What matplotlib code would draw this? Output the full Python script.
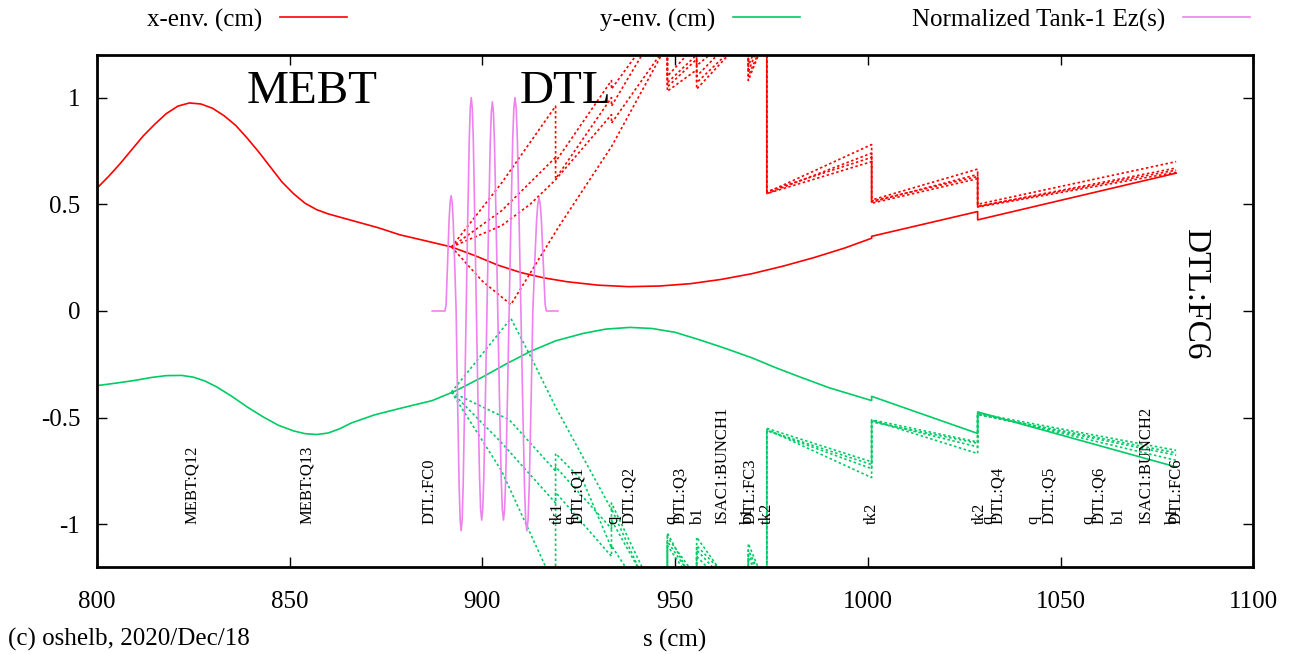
import numpy as np
import matplotlib
matplotlib.use("Agg")
import matplotlib.pyplot as plt

plt.rcParams['font.family'] = ['Liberation Serif', 'DejaVu Serif']

RED = '#ff0000'
GREEN = '#00cc66'
VIOLET = '#ee82ee'

# --- main envelopes (design) ---
x_s = [800, 803, 806, 809, 812, 815, 818, 821, 824, 827, 830, 833, 836, 839, 842, 845, 848,
       851, 854, 857, 860, 864, 868, 873, 878.6, 885, 892, 898, 904, 910, 916, 922, 930,
       938, 946, 954, 962, 970, 978, 986, 994, 1001,
       1001, 1028.5, 1028.5, 1080]
x_env = [0.575, 0.63, 0.69, 0.755, 0.82, 0.875, 0.925, 0.96, 0.975, 0.97, 0.95, 0.915, 0.87,
         0.81, 0.745, 0.675, 0.605, 0.55, 0.505, 0.475, 0.455, 0.435, 0.415, 0.39, 0.357, 0.33,
         0.30, 0.26, 0.215, 0.18, 0.155, 0.137, 0.121, 0.114, 0.117, 0.128, 0.148, 0.175,
         0.21, 0.25, 0.295, 0.341,
         0.35, 0.466, 0.427, 0.646]

y_s = [800, 805, 810, 814, 818, 822, 825, 828, 831, 835, 839, 843, 847, 851, 854, 857, 860,
       863, 866, 872, 879, 887, 893, 900, 906, 912.4, 919, 926.2, 932, 938.3, 944, 950,
       956.5, 963, 970, 976, 982.5, 990, 1001,
       1001, 1028.5, 1028.5, 1080]
y_env = [-0.35, -0.338, -0.325, -0.312, -0.303, -0.302, -0.31, -0.328, -0.355, -0.40, -0.45,
         -0.495, -0.535, -0.562, -0.575, -0.579, -0.572, -0.552, -0.525, -0.487, -0.455,
         -0.42, -0.375, -0.31, -0.25, -0.19, -0.14, -0.105, -0.085, -0.077, -0.082, -0.10,
         -0.136, -0.175, -0.22, -0.265, -0.31, -0.36, -0.42,
         -0.40, -0.574, -0.473, -0.731]

# --- envelopes with errors (dotted) ---
xerr_runs = [
    ([892, 900, 907.4, 920, 933.5, 948, 948, 955.6, 955.6, 969, 969, 973.8, 973.8, 1001, 1001, 1028.5, 1028.5, 1080],
     [0.30, 0.14, 0.03, 0.40, 0.77, 1.25, 1.03, 1.13, 1.04, 1.30, 1.08, 1.30, 0.55, 0.70, 0.505, 0.62, 0.487, 0.65]),
    ([892, 905, 919, 919, 933.5, 933.5, 948, 948, 955.6, 955.6, 969, 969, 973.8, 973.8, 1001, 1001, 1028.5, 1028.5, 1080],
     [0.30, 0.60, 0.96, 0.62, 1.0, 0.96, 1.40, 1.07, 1.20, 1.10, 1.35, 1.12, 1.35, 0.555, 0.78, 0.52, 0.665, 0.50, 0.70]),
    ([892, 905, 919, 919, 933.5, 933.5, 948, 948, 955.6, 955.6, 969, 969, 973.8, 973.8, 1001, 1001, 1028.5, 1028.5, 1080],
     [0.30, 0.47, 0.72, 0.70, 1.08, 1.04, 1.40, 1.10, 1.25, 1.15, 1.35, 1.15, 1.35, 0.55, 0.74, 0.51, 0.64, 0.49, 0.67]),
    ([892, 905, 912.4, 919, 933.5, 933.5, 948, 948, 955.6, 955.6, 969, 969, 973.8, 973.8, 1001, 1001, 1028.5, 1028.5, 1080],
     [0.30, 0.40, 0.50, 0.615, 0.92, 0.88, 1.25, 1.05, 1.18, 1.07, 1.30, 1.10, 1.30, 0.56, 0.72, 0.515, 0.63, 0.49, 0.66]),
]
yerr_runs = [
    ([892, 907.4, 913, 919, 933.5, 933.5, 948, 948, 955.6, 955.6, 969, 969, 973.8, 973.8, 1001, 1001, 1028.5, 1028.5, 1080],
     [-0.38, -0.035, -0.23, -0.45, -0.93, -0.90, -1.45, -1.04, -1.30, -1.06, -1.40, -1.09, -1.30, -0.555, -0.781, -0.512, -0.668, -0.48, -0.653]),
    ([892, 905, 919, 919, 926.2, 933.5, 933.5, 948, 948, 955.6, 955.6, 969, 969, 973.8, 973.8, 1001, 1001, 1028.5, 1028.5, 1080],
     [-0.38, -0.75, -1.30, -0.668, -0.80, -1.11, -0.926, -1.50, -1.06, -1.25, -1.10, -1.35, -1.12, -1.30, -0.56, -0.739, -0.515, -0.637, -0.485, -0.676]),
    ([892, 907, 919, 919, 933.5, 933.5, 948, 948, 955.6, 955.6, 969, 969, 973.8, 973.8, 1001, 1001, 1028.5, 1028.5, 1080],
     [-0.38, -0.51, -0.75, -0.73, -1.02, -0.98, -1.45, -1.08, -1.28, -1.12, -1.38, -1.14, -1.30, -0.55, -0.707, -0.51, -0.614, -0.48, -0.70]),
    ([892, 904.6, 919, 919, 933.5, 933.5, 948, 948, 955.6, 955.6, 969, 969, 973.8, 973.8, 1001, 1001, 1028.5, 1028.5, 1080],
     [-0.38, -0.61, -0.90, -0.85, -1.15, -1.10, -1.50, -1.10, -1.30, -1.15, -1.40, -1.16, -1.30, -0.56, -0.72, -0.52, -0.62, -0.485, -0.665]),
]

# --- normalized Tank-1 Ez(s) ---
ez_s = [887.0, 890.3,
        890.6, 890.99, 891.38, 891.64, 891.9, 892.16, 892.42, 892.81,
        893.2, 893.59, 893.98, 894.24, 894.5, 894.76, 895.02, 895.41,
        895.8, 896.2, 896.6, 896.86, 897.13, 897.39, 897.66, 898.05,
        898.45, 898.86, 899.28, 899.55, 899.83, 900.1, 900.38, 900.79,
        901.2, 901.62, 902.04, 902.32, 902.6, 902.88, 903.16, 903.58,
        904.0, 904.44, 904.89, 905.18, 905.48, 905.77, 906.07, 906.51,
        906.95, 907.41, 907.87, 908.17, 908.48, 908.78, 909.09, 909.54,
        910.0, 910.47, 910.93, 911.24, 911.55, 911.86, 912.17, 912.64,
        913.1, 913.58, 914.06, 914.38, 914.7, 915.02, 915.34, 915.82,
        916.3, 916.6, 919.6]
ez = [0.0, 0.0,
      0.03, 0.23, 0.43, 0.51, 0.54, 0.51, 0.43, 0.23,
      0.0, -0.43, -0.82, -0.98, -1.03, -0.98, -0.82, -0.43,
      0.0, 0.42, 0.80, 0.95, 1.0, 0.95, 0.80, 0.42,
      0.0, -0.41, -0.78, -0.93, -0.98, -0.93, -0.78, -0.41,
      0.0, 0.41, 0.78, 0.93, 0.98, 0.93, 0.78, 0.41,
      0.0, -0.41, -0.78, -0.93, -0.98, -0.93, -0.78, -0.41,
      0.0, 0.42, 0.80, 0.95, 1.0, 0.95, 0.80, 0.42,
      0.0, -0.43, -0.82, -0.98, -1.03, -0.98, -0.82, -0.43,
      0.0, 0.22, 0.42, 0.50, 0.53, 0.50, 0.42, 0.22,
      0.03, 0.0, 0.0]

# --- element labels ---
elem_names = ['MEBT:Q12', 'MEBT:Q13', 'DTL:FC0', 'tk1', 'q', 'DTL:Q1', 'q', 'DTL:Q2', 'q', 'DTL:Q3',
              'b1', 'ISAC1:BUNCH1', 'b1', 'DTL:FC3', 'tk2', 'tk2', 'tk2', 'q', 'DTL:Q4', 'q', 'DTL:Q5',
              'q', 'DTL:Q6', 'b1', 'ISAC1:BUNCH2', 'b1', 'DTL:FC6']
elem_pos = [824.6, 854.4, 886.4, 919.6, 922.8, 924.9, 934.0, 938.1, 949.1, 951.3,
            955.9, 962.4, 969.0, 969.7, 973.8, 1001.0, 1029.0, 1031.4, 1033.9, 1043.0, 1046.9,
            1057.3, 1059.9, 1065.1, 1072.4, 1079.3, 1080.2]

fig = plt.figure(figsize=(12.92, 6.54), dpi=100)
ax = fig.add_axes([0.075, 0.133, 0.895, 0.783])

dot = (0, (1.5, 1.5))
for s, v in xerr_runs:
    ax.plot(s, v, color=RED, lw=1.2, ls=dot)
for s, v in yerr_runs:
    ax.plot(s, v, color=GREEN, lw=1.2, ls=dot)

lx, = ax.plot(x_s, x_env, color=RED, lw=1.2)
ly, = ax.plot(y_s, y_env, color=GREEN, lw=1.2)
lez, = ax.plot(ez_s, ez, color=VIOLET, lw=1.2)

for name, p in zip(elem_names, elem_pos):
    ax.text(p, -1.0, name, rotation=90, ha='center', va='bottom', fontsize=12)

ax.text(855.8, 0.975, 'MEBT', fontsize=34, ha='center', va='baseline')
ax.text(909.8, 0.975, 'DTL', fontsize=34, ha='left', va='baseline')
ax.text(1085, 0.08, 'DTL:FC6', fontsize=24, rotation=270, ha='center', va='center')

ax.set_xlim(800, 1100)
ax.set_ylim(-1.2, 1.2)
ax.set_xticks(np.arange(800, 1101, 50))
ax.set_yticks([-1, -0.5, 0, 0.5, 1])
ax.set_yticklabels(['-1', '-0.5', '0', '0.5', '1'])
ax.tick_params(direction='in', length=7, width=1, top=True, right=True, labelsize=18)
ax.tick_params(axis='x', pad=17)
ax.tick_params(axis='y', pad=12)
for sp in ax.spines.values():
    sp.set_linewidth(2)
ax.set_xlabel('s (cm)', fontsize=18, labelpad=12)

fig.text(0.006, 0.022, '(c) oshelb, 2020/Dec/18', fontsize=18, ha='left', va='center')

# gnuplot-style key along the top
keys = [(lx, 'x-env. (cm)', 347), (ly, 'y-env. (cm)', 800), (lez, 'Normalized Tank-1 Ez(s)', 1250)]
for h, lab, xend in keys:
    fig.legend([h], [lab], loc='center right', bbox_to_anchor=(xend / 1292, 1 - 20 / 654),
               frameon=False, markerfirst=False, fontsize=18, handlelength=2.7,
               handletextpad=0.7, borderpad=0, borderaxespad=0)

fig.savefig('out.png', dpi=100)
